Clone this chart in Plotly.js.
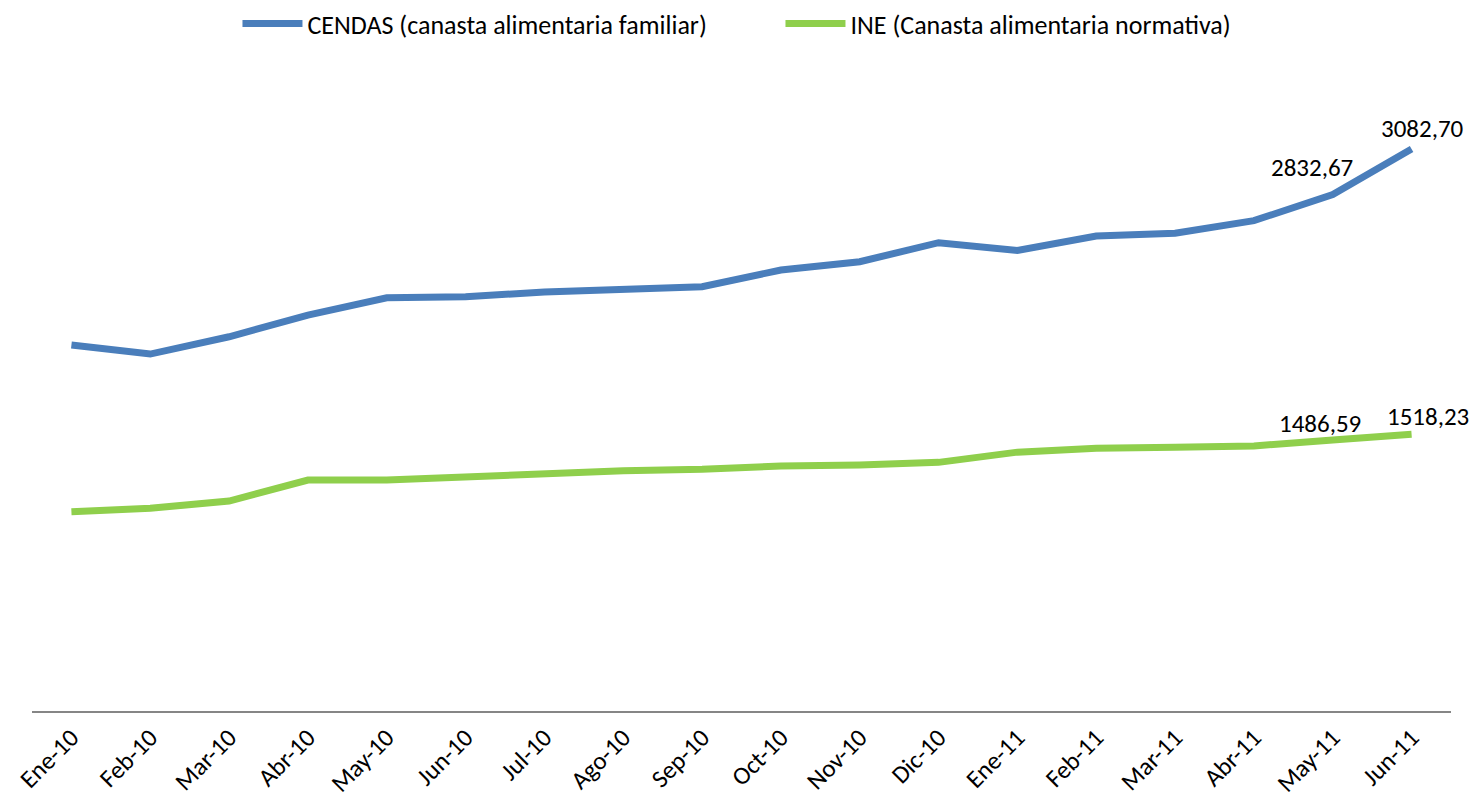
<!DOCTYPE html>
<html>
<head>
<meta charset="utf-8">
<script src="https://cdn.plot.ly/plotly-3.0.1.min.js"></script>
<style>html,body{margin:0;padding:0;background:#fff;}#chart{width:1475px;height:811px;}</style>
</head>
<body>
<div id="chart"></div>
<script>
const months = ["Ene-10","Feb-10","Mar-10","Abr-10","May-10","Jun-10","Jul-10","Ago-10","Sep-10","Oct-10","Nov-10","Dic-10","Ene-11","Feb-11","Mar-11","Abr-11","May-11","Jun-11"];
const cendasName = "CENDAS (canasta alimentaria familiar)";
const ineName = "INE (Canasta alimentaria normativa)";
const cendas = [2008, 1958, 2053, 2172, 2267, 2273, 2298, 2313, 2328, 2419, 2465, 2569, 2527, 2606, 2621, 2690, 2832.67, 3082.70];
const ine = [1093, 1112, 1152, 1267, 1267, 1285, 1309, 1318, 1326, 1344, 1350, 1364, 1420, 1441, 1447, 1454, 1486.59, 1518.23];
// indices of labelled points
const labelIdx = [16, 17];

const FONT = "Calibri, Carlito, Lato, sans-serif";
const fmt = v => v.toFixed(2).replace('.', ',');

const traces = [
  {x: months, y: cendas, name: cendasName, type: 'scatter', mode: 'lines',
   line: {color: '#4a7ebb', width: 7}},
  {x: months, y: ine, name: ineName, type: 'scatter', mode: 'lines',
   line: {color: '#8fcf4c', width: 7}}
];

const shifts = {cendas: [[-21, 27], [11, 21]], ine: [[-13, 17], [16, 18]]};
const annotations = [];
labelIdx.forEach((i, k) => {
  annotations.push({x: months[i], y: cendas[i], xref: 'x', yref: 'y', text: fmt(cendas[i]),
    showarrow: false, xshift: shifts.cendas[k][0], yshift: shifts.cendas[k][1],
    font: {family: FONT, size: 25, color: '#000'}});
  annotations.push({x: months[i], y: ine[i], xref: 'x', yref: 'y', text: fmt(ine[i]),
    showarrow: false, xshift: shifts.ine[k][0], yshift: shifts.ine[k][1],
    font: {family: FONT, size: 25, color: '#000'}});
});

const layout = {
  width: 1475, height: 811,
  paper_bgcolor: '#ffffff', plot_bgcolor: '#ffffff',
  margin: {l: 32, r: 24, t: 73, b: 100},
  font: {family: FONT, color: '#000'},
  separators: ',.',
  showlegend: true,
  legend: {orientation: 'h', xref: 'container', x: 0.161, xanchor: 'left', yref: 'container', y: 1.0, yanchor: 'top',
    font: {family: FONT, size: 26, color: '#000'}, itemwidth: 60, entrywidth: 468, entrywidthmode: 'pixels',
    traceorder: 'normal', bgcolor: 'rgba(0,0,0,0)'},
  xaxis: {type: 'category', range: [-0.5, months.length - 0.5], showline: true, linecolor: '#868686', linewidth: 2,
    showgrid: false, zeroline: false, ticks: '', tickangle: -45,
    tickfont: {family: FONT, size: 25, color: '#000'}, automargin: false},
  yaxis: {range: [0, 3500], showgrid: false, zeroline: false, showticklabels: false,
    showline: false, ticks: ''},
  annotations: annotations
};

Plotly.newPlot('chart', traces, layout, {displayModeBar: false, staticPlot: true});
</script>
</body>
</html>
